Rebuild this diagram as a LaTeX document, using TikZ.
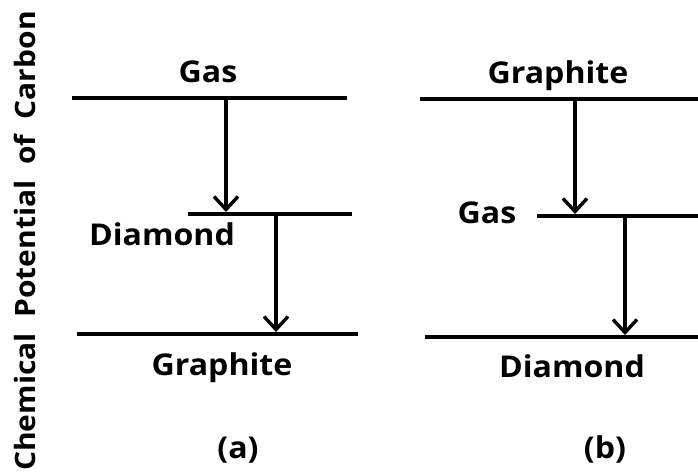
\documentclass[tikz,border=0pt]{standalone}
\usepackage{fontspec}
\setmainfont{Open Sans}[FakeStretch=1.07]
\usepackage{tikz}
\usetikzlibrary{arrows.meta}

\begin{document}
\begin{tikzpicture}[x=1pt, y=-1pt,
  level/.style={line width=3.6pt},
  trans/.style={line width=3.4pt, -{Straight Barb[length=13pt,width=24pt]}},
  lbl/.style={font=\fontsize{30}{32}\selectfont\bfseries, anchor=base, inner sep=0pt}]

\useasboundingbox (0,0) rectangle (698,475);

%% ── Axis label ───────────────────────────────────────────────────────────────
\node[lbl, font=\fontsize{28}{30}\selectfont\bfseries, rotate=90] (ylab)
  at (35, 241) {Chemical\ \ Potential\ \ of\ \ Carbon};

%% ── Panel (a): Gas > Diamond > Graphite ─────────────────────────────────────
\coordinate (aTopL) at (72, 98);   \coordinate (aTopR) at (347, 98);
\coordinate (aMidL) at (188, 214); \coordinate (aMidR) at (352, 214);
\coordinate (aBotL) at (77, 334);  \coordinate (aBotR) at (358, 334);
\draw[level] (aTopL) -- (aTopR);
\draw[level] (aMidL) -- (aMidR);
\draw[level] (aBotL) -- (aBotR);

\node[lbl] (aGas)   at (208, 82)  {Gas};
\node[lbl] (aDia)   at (162, 245) {Diamond};
\node[lbl] (aGra)   at (222, 375) {Graphite};
\node[lbl] (aTag)   at (238, 458) {(a)};

\coordinate (aS1) at (226, 98);  \coordinate (aE1) at (226, 212);
\coordinate (aS2) at (276, 214); \coordinate (aE2) at (276, 332);
\draw[trans] (aS1) -- (aE1);
\draw[trans] (aS2) -- (aE2);

%% ── Panel (b): Graphite > Gas > Diamond ─────────────────────────────────────
\coordinate (bTopL) at (420, 99);  \coordinate (bTopR) at (698, 99);
\coordinate (bMidL) at (537, 216); \coordinate (bMidR) at (698, 216);
\coordinate (bBotL) at (425, 337); \coordinate (bBotR) at (698, 337);
\draw[level] (bTopL) -- (bTopR);
\draw[level] (bMidL) -- (bMidR);
\draw[level] (bBotL) -- (bBotR);

\node[lbl] (bGra)   at (558, 83)  {Graphite};
\node[lbl] (bGas)   at (487, 223) {Gas};
\node[lbl] (bDia)   at (572, 377) {Diamond};
\node[lbl] (bTag)   at (605, 458) {(b)};

\coordinate (bS1) at (575, 99);  \coordinate (bE1) at (575, 214);
\coordinate (bS2) at (625, 216); \coordinate (bE2) at (625, 335);
\draw[trans] (bS1) -- (bE1);
\draw[trans] (bS2) -- (bE2);

\end{tikzpicture}
\end{document}
